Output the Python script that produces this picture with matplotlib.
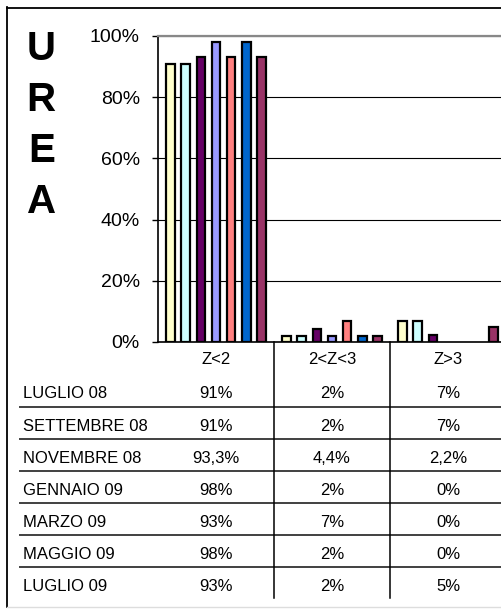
import matplotlib
matplotlib.use("Agg")
import matplotlib.pyplot as plt
import matplotlib.transforms as mtransforms
from matplotlib.lines import Line2D
import numpy as np

# Data
categories = ["Z<2", "2<Z<3", "Z>3"]
periods = ["LUGLIO 08", "SETTEMBRE 08", "NOVEMBRE 08", "GENNAIO 09",
           "MARZO 09", "MAGGIO 09", "LUGLIO 09"]
z_lt2 = [91, 91, 93.3, 98, 93, 98, 93]
z_2_3 = [2, 2, 4.4, 2, 7, 2, 2]
z_gt3 = [7, 7, 2.2, 0, 0, 0, 5]
colors = ["#FFFFCC", "#CCFFFF", "#660066", "#9999FF", "#FF8080", "#0066CC", "#993366"]
title_letters = ["U", "R", "E", "A"]

plt.rcParams["font.family"] = ["Liberation Sans", "DejaVu Sans"]

W, H = 502, 609
fig = plt.figure(figsize=(W / 100, H / 100), dpi=100)


def fx(x):
    return x / W


def fy(y):
    return 1 - y / H


# plot area (right edge runs past the picture, as in the original)
ax = fig.add_axes([fx(158), fy(342), fx(506) - fx(158), fy(36) - fy(342)])
ax.set_xlim(0, 3)
ax.set_ylim(0, 100)

cols = [z_lt2, z_2_3, z_gt3]
pitch = 0.130
width = 0.075
for j in range(len(periods)):
    heights = np.array([c[j] for c in cols])
    xs = np.arange(len(categories)) + 0.5 + (j - 3) * pitch
    keep = heights > 0
    ax.bar(xs[keep], heights[keep], width=width, color=colors[j],
           edgecolor="black", linewidth=1.6, zorder=3)

ax.set_yticks(range(0, 101, 20))
ax.set_yticklabels([f"{v}%" for v in range(0, 101, 20)], fontsize=14)
ax.tick_params(axis="y", direction="out", length=4.5, width=1, pad=8.5)
ax.set_xticks([])
ax.grid(axis="y", color="black", linewidth=0.8, zorder=0)
ax.set_axisbelow(True)
ax.spines["right"].set_visible(False)
ax.spines["top"].set_color("#888888")
ax.spines["top"].set_linewidth(1.6)
ax.spines["left"].set_linewidth(1.2)
ax.spines["bottom"].set_linewidth(1.2)

# big vertical title
for k, letter in enumerate(title_letters):
    fig.text(fx(41.3), fy(60 + 51 * k), letter, ha="center", va="baseline",
             fontsize=29, fontweight="bold")

# data table
blend = mtransforms.blended_transform_factory(ax.transData, fig.transFigure)


def fmt(v):
    return f"{v:g}".replace(".", ",") + "%"


for i, cat in enumerate(categories):
    ax.text(i + 0.5, fy(364), cat, transform=blend, ha="center",
            va="baseline", fontsize=12, clip_on=False)

row_step = 32.1
for k, period in enumerate(periods):
    yb = fy(398.5 + row_step * k)
    fig.text(fx(23), yb, period, ha="left", va="baseline", fontsize=12)
    for i in range(len(categories)):
        ax.text(i + 0.5, yb, fmt(cols[i][k]), transform=blend, ha="center",
                va="baseline", fontsize=12, clip_on=False)

for k in range(len(periods) - 1):
    y = fy(406.7 + row_step * k)
    fig.add_artist(Line2D([fx(20), 1], [y, y], color="#404040", linewidth=1.4))

for i in range(1, len(categories) + 1):
    fig.add_artist(Line2D([i, i], [fy(342), fy(598)], transform=blend,
                          color="black", linewidth=1.1))

# outer frame
fig.add_artist(Line2D([fx(7), fx(7)], [fy(7), fy(607)], color="black", linewidth=1.3))
fig.add_artist(Line2D([fx(7), 1], [fy(7.5), fy(7.5)], color="black", linewidth=1.3))
fig.add_artist(Line2D([fx(7), 1], [fy(607), fy(607)], color="#dddddd", linewidth=1.0))

fig.savefig("out.png", dpi=100)
